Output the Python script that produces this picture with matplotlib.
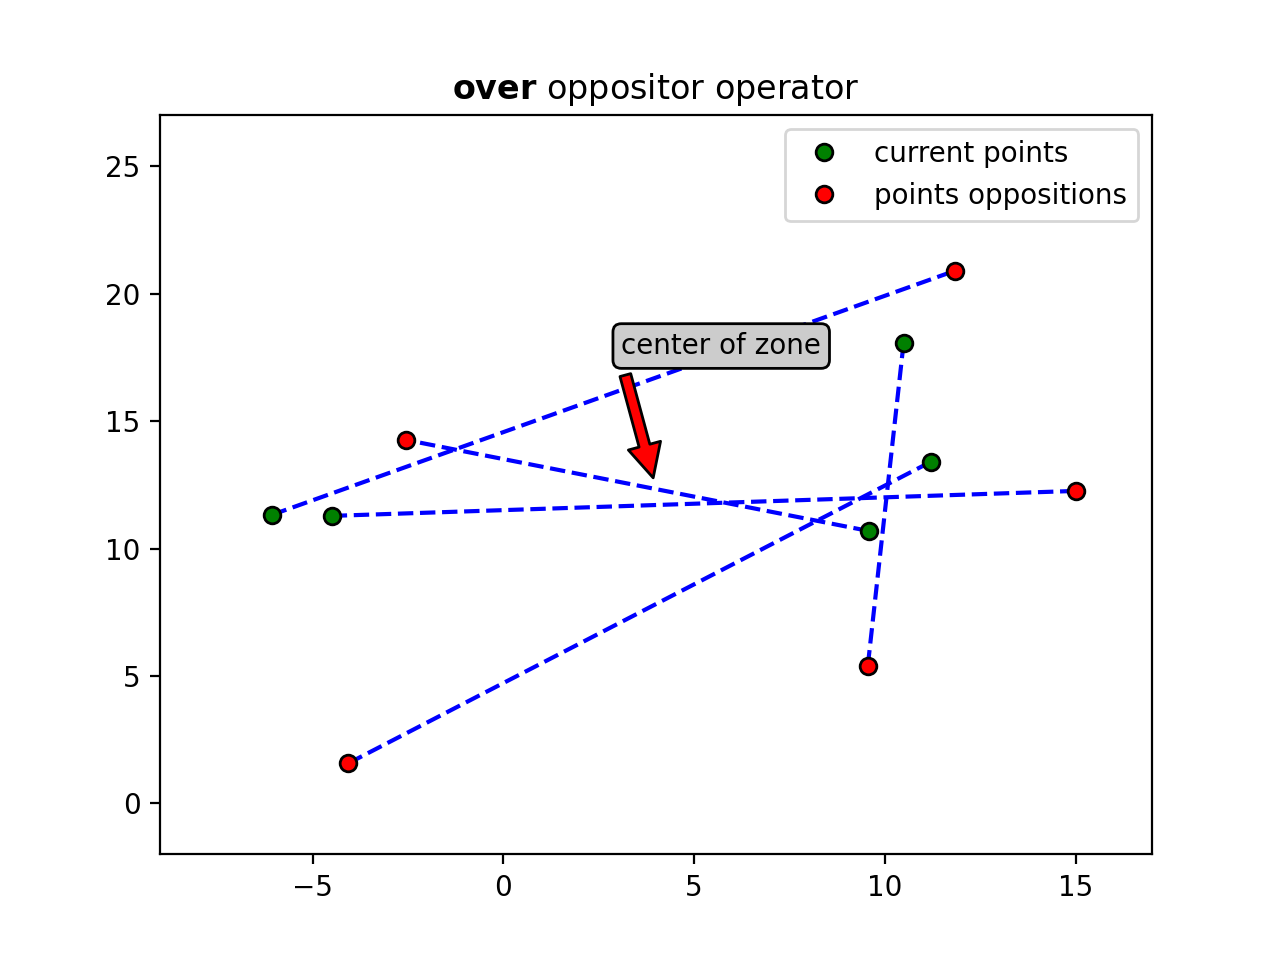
import matplotlib
matplotlib.use("Agg")
import matplotlib.pyplot as plt

# current points and their opposition points (same order -> pairs)
current_x = [-6.07, -4.5, 9.57, 10.49, 11.2]
current_y = [11.32, 11.28, 10.69, 18.07, 13.4]
opposit_x = [11.84, 15.0, -2.55, 9.55, -4.07]
opposit_y = [20.9, 12.26, 14.26, 5.38, 1.57]

center_xy = (3.97, 12.53)
label_xy = (3.09, 17.63)

fig, ax = plt.subplots(figsize=(6.4, 4.8), dpi=200)

for i in range(len(current_x)):
    ax.plot([current_x[i], opposit_x[i]], [current_y[i], opposit_y[i]], '--', color='blue', zorder=1)

ax.plot(current_x, current_y, 'o', color='green', markeredgecolor='black', markersize=6, label='current points', zorder=2)
ax.plot(opposit_x, opposit_y, 'o', color='red', markeredgecolor='black', markersize=6, label='points oppositions', zorder=2)

ax.annotate('center of zone', xy=center_xy, xytext=label_xy,
            arrowprops=dict(facecolor='red', edgecolor='black', shrink=0.05),
            bbox=dict(boxstyle='round', facecolor='#cccccc', edgecolor='black'))

ax.set_xlim(-9, 17)
ax.set_ylim(-2, 27)
ax.set_title(r'$\bf{over}$ oppositor operator')
ax.legend(loc='upper right')

plt.savefig('out.png', dpi=200)
plt.close()
